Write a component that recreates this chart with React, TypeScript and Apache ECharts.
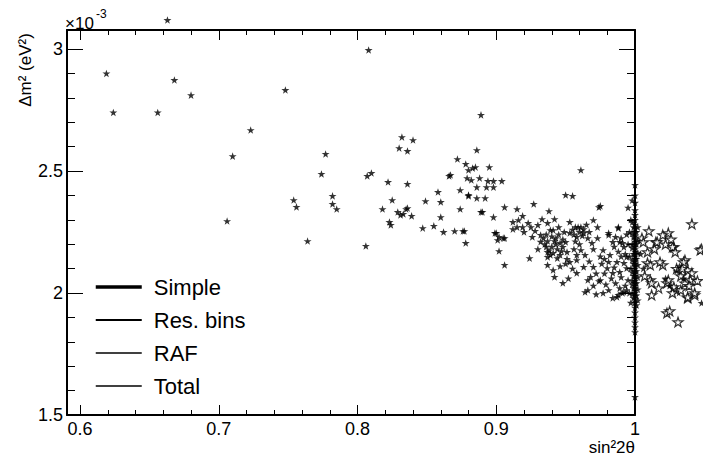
import React, { useEffect, useRef } from "react";
import * as echarts from "echarts";

const xMajorTicks = [0.6, 0.7, 0.8, 0.9, 1.0];
const xMinorTicks = [0.62, 0.64, 0.66, 0.68, 0.72, 0.74, 0.76, 0.78, 0.82, 0.84, 0.86, 0.88, 0.92, 0.94, 0.96, 0.98];
const yMajorTicks = [1.5, 2, 2.5, 3];
const yMinorTicks = [1.6, 1.7, 1.8, 1.9, 2.1, 2.2, 2.3, 2.4, 2.6, 2.7, 2.8, 2.9];
const legendNames = ["Simple", "Res. bins", "RAF", "Total"];
const legendWidths = [3.5, 2.2, 1.5, 1.3];

const filledStars: [number, number][] = [
  [0.663, 3.119], [0.619, 2.9], [0.624, 2.74], [0.656, 2.74], [0.668, 2.873], [0.68, 2.811],
  [0.71, 2.561], [0.706, 2.295], [0.723, 2.668], [0.748, 2.832], [0.808, 2.996], [0.889, 2.73],
  [0.754, 2.381], [0.756, 2.353], [0.777, 2.57], [0.774, 2.488], [0.782, 2.398], [0.782, 2.365], [0.785, 2.344],
  [0.764, 2.213], [0.806, 2.193], [0.807, 2.48], [0.81, 2.492], [0.822, 2.455], [0.836, 2.447],
  [0.832, 2.639], [0.84, 2.627], [0.83, 2.594], [0.836, 2.582],
  [0.825, 2.381], [0.818, 2.344], [0.829, 2.332], [0.831, 2.32], [0.835, 2.344], [0.823, 2.291], [0.824, 2.279],
  [0.866, 2.48], [0.858, 2.414], [0.849, 2.377], [0.86, 2.373], [0.839, 2.316], [0.86, 2.311], [0.847, 2.266], [0.855, 2.275], [0.862, 2.25],
  [0.886, 2.586], [0.872, 2.549], [0.878, 2.529], [0.895, 2.516], [0.88, 2.504], [0.883, 2.512], [0.885, 2.516], [0.867, 2.484],
  [0.879, 2.471], [0.888, 2.471], [0.894, 2.459], [0.898, 2.459], [0.904, 2.459], [0.882, 2.463], [0.886, 2.434], [0.893, 2.434],
  [0.898, 2.434], [0.874, 2.422], [0.88, 2.398], [0.886, 2.389], [0.892, 2.389], [0.874, 2.344], [0.889, 2.332], [0.906, 2.352],
  [0.915, 2.344], [0.927, 2.365], [0.938, 2.336], [0.974, 2.352], [0.95, 2.402], [0.955, 2.398], [0.961, 2.504], [0.836, 2.348], [0.833, 2.324],
  [0.898, 2.311], [0.87, 2.254], [0.877, 2.254], [0.878, 2.205], [0.9, 2.246], [0.902, 2.23], [0.906, 2.225], [0.901, 2.217], [0.902, 2.172], [0.906, 2.115],
  [0.88, 2.402], [0.89, 2.332], [0.912, 2.291], [0.916, 2.299], [0.919, 2.316], [0.923, 2.287], [0.93, 2.279], [0.933, 2.303], [0.937, 2.287],
  [0.942, 2.303], [0.945, 2.27], [0.953, 2.291], [0.957, 2.27], [0.959, 2.27], [0.912, 2.262], [0.919, 2.27], [0.925, 2.27], [0.932, 2.238],
  [0.939, 2.258], [0.941, 2.258], [0.926, 2.23], [0.937, 2.213], [0.942, 2.213], [0.946, 2.205], [0.95, 2.209], [0.953, 2.246], [0.958, 2.23],
  [0.876, 2.254], [0.899, 2.246], [0.905, 2.225], [0.924, 2.143], [0.937, 2.168], [0.939, 2.156], [0.941, 2.164], [0.946, 2.156], [0.948, 2.189],
  [0.951, 2.168], [0.944, 2.143], [0.937, 2.115], [0.941, 2.094], [0.942, 2.066], [0.948, 2.041], [0.953, 2.127], [0.958, 2.135], [0.958, 2.082],
  [0.958, 2.156], [0.937, 2.148],
  [0.975, 2.357], [0.97, 2.299], [0.973, 2.27], [0.961, 2.27], [0.963, 2.246], [0.966, 2.225], [0.969, 2.205], [0.961, 2.176], [0.964, 2.156],
  [0.973, 2.225], [0.981, 2.246], [0.988, 2.27], [0.984, 2.209], [0.989, 2.209], [0.992, 2.189], [0.977, 2.176], [0.982, 2.156], [0.987, 2.127],
  [0.992, 2.123], [0.97, 2.107], [0.98, 2.102], [0.984, 2.082], [0.989, 2.086], [0.994, 2.102], [0.963, 2.107], [0.966, 2.053], [0.975, 2.053],
  [0.981, 2.012], [0.987, 1.984], [0.992, 2.004], [0.966, 2.012], [0.995, 2.053], [0.994, 2.148],
  [0.964, 2.004], [0.984, 1.98], [0.988, 1.992], [0.994, 2.012], [0.974, 2.049], [0.968, 2.066], [0.988, 2.266], [0.981, 2.238], [0.991, 2.0],
  [0.935, 2.2], [0.94, 2.19], [0.944, 2.18], [0.938, 2.175], [0.943, 2.225], [0.948, 2.22], [0.934, 2.225],
  [0.997, 2.3], [0.996, 2.25], [0.998, 2.2], [0.996, 2.15], [0.997, 2.1], [0.998, 2.05], [0.996, 2.0], [0.997, 1.96], [0.995, 2.35], [0.998, 2.38],
  [0.936, 2.24], [0.94, 2.232], [0.945, 2.24], [0.949, 2.25], [0.936, 2.19], [0.943, 2.2], [0.947, 2.172], [0.932, 2.21], [0.93, 2.18],
  [0.955, 2.26], [0.96, 2.25], [0.963, 2.262], [0.956, 2.24], [0.962, 2.235], [0.965, 2.28], [0.967, 2.25], [0.957, 2.212], [0.96, 2.2],
  [0.985, 2.19], [0.988, 2.17], [0.991, 2.205], [0.993, 2.16], [0.995, 2.2], [0.99, 2.225], [0.986, 2.23], [0.994, 2.24], [0.99, 2.15],
  [0.978, 2.14], [0.976, 2.12], [0.981, 2.128], [0.983, 2.06], [0.978, 2.08], [0.986, 2.04], [0.979, 2.035], [0.985, 2.105], [0.99, 2.065],
  [0.97, 2.03], [0.972, 2.08], [0.967, 2.13], [0.975, 2.15], [0.97, 2.18], [0.993, 2.03], [0.989, 2.02], [0.977, 2.0], [0.972, 1.995],
  [0.92, 2.25], [0.915, 2.27], [0.928, 2.255], [0.95, 2.12], [0.955, 2.1], [0.946, 2.11], [0.952, 2.06], [0.956, 2.18], [0.951, 2.14],
  [1.048, 1.959], [1.03, 2.09], [1.035, 2.06], [1.025, 2.03], [1.032, 2.11], [1.022, 2.06], [1.004, 2.16], [1.006, 2.1],
];

const boundaryStars: [number, number][] = [
  [1.0, 2.443], [1.0, 2.4], [1.0, 2.37], [1.0, 2.34], [1.0, 2.32], [1.0, 2.3], [1.0, 2.28], [1.0, 2.265], [1.0, 2.25],
  [1.0, 2.235], [1.0, 2.22], [1.0, 2.21], [1.0, 2.2], [1.0, 2.19], [1.0, 2.18], [1.0, 2.17], [1.0, 2.16], [1.0, 2.15],
  [1.0, 2.14], [1.0, 2.13], [1.0, 2.12], [1.0, 2.11], [1.0, 2.1], [1.0, 2.09], [1.0, 2.08], [1.0, 2.07], [1.0, 2.06],
  [1.0, 2.05], [1.0, 2.04], [1.0, 2.03], [1.0, 2.02], [1.0, 2.01], [1.0, 2.0], [1.0, 1.99], [1.0, 1.975], [1.0, 1.96],
  [1.0, 1.94], [1.0, 1.92], [1.0, 1.9], [1.0, 1.88], [1.0, 1.86], [1.0, 1.84], [1.0, 1.574],
  [0.999, 2.27], [0.999, 2.23], [0.999, 2.16], [0.999, 2.12], [0.999, 2.07], [0.999, 2.02], [0.999, 1.98],
  [1.001, 2.25], [1.001, 2.2], [1.001, 2.14], [1.001, 2.09], [1.001, 2.04], [1.001, 1.99], [1.001, 1.95],
  [0.998, 2.29], [0.998, 2.245], [0.998, 2.185], [0.998, 2.135], [0.998, 2.085], [0.998, 2.035], [0.998, 1.995],
  [1.002, 2.27], [1.002, 2.215], [1.002, 2.165], [1.002, 2.115], [1.002, 2.065], [1.002, 2.015], [1.002, 1.97],
];

const hollowStars: [number, number][] = [
  [1.041, 2.283], [1.048, 2.18], [1.01, 2.254], [1.005, 2.225], [1.015, 2.209], [1.024, 2.246], [1.028, 2.189], [1.036, 2.135],
  [1.038, 2.094], [1.041, 2.082], [1.02, 2.115], [1.011, 2.053], [1.009, 2.123], [1.023, 2.041], [1.03, 2.012], [1.038, 1.98],
  [1.043, 1.992], [1.012, 1.992], [1.023, 1.918], [1.025, 1.926], [1.031, 1.881], [1.006, 2.209], [1.016, 2.209], [1.02, 2.238],
  [1.027, 2.189], [1.029, 2.168], [1.047, 2.176], [1.035, 2.127], [1.04, 2.053], [1.043, 2.0], [1.009, 2.168], [1.011, 2.115],
  [1.012, 2.041], [1.018, 2.127], [1.024, 2.053], [1.028, 2.025], [1.033, 2.012], [1.038, 1.984], [1.033, 2.07], [1.036, 2.04], [1.03, 2.1],
  [1.026, 2.22], [1.022, 2.2], [1.014, 2.18], [1.007, 2.07], [1.017, 2.02], [1.034, 2.1], [1.039, 2.03], [1.045, 2.05], [1.027, 2.0],
];

const STAR =
  "path://M50,0 L61.8,35.3 L98.9,35.3 L68.9,57.4 L79.4,92.7 L50,70.9 L20.6,92.7 L31.1,57.4 L1.1,35.3 L38.2,35.3 Z";

const X_MIN = 0.5906;
const X_MAX = 1.0;
const Y_MIN = 1.5;
const Y_MAX = 3.078;
const FONT = "Liberation Sans";

function xAx(position: string, values: number[], len: number, withLine: boolean, withLabel: boolean) {
  return {
    type: "value",
    position,
    min: X_MIN,
    max: X_MAX,
    splitLine: { show: false },
    axisLine: { show: withLine, onZero: false, lineStyle: { color: "#000", width: 2 } },
    axisTick: { show: true, inside: true, length: len, customValues: values, lineStyle: { color: "#000", width: 1 } },
    axisLabel: {
      show: withLabel,
      customValues: values,
      margin: 5,
      color: "#000",
      fontFamily: FONT,
      fontSize: 18,
      formatter: (v: number) => String(Math.round(v * 10) / 10),
    },
  };
}

function yAx(position: string, values: number[], len: number, withLine: boolean, withLabel: boolean) {
  return {
    type: "value",
    position,
    min: Y_MIN,
    max: Y_MAX,
    splitLine: { show: false },
    axisLine: { show: withLine, onZero: false, lineStyle: { color: "#000", width: 2 } },
    axisTick: { show: true, inside: true, length: len, customValues: values, lineStyle: { color: "#000", width: 1 } },
    axisLabel: {
      show: withLabel,
      customValues: values,
      margin: 4,
      color: "#000",
      fontFamily: FONT,
      fontSize: 18,
      formatter: (v: number) => String(Math.round(v * 10) / 10),
    },
  };
}

export default function App() {
  const ref = useRef<HTMLDivElement>(null);
  useEffect(() => {
    if (!ref.current) return;
    const chart = echarts.init(ref.current, null, { renderer: "svg" });
    const legendSeries = legendNames.map((n, i) => ({
      name: n,
      type: "line",
      data: [],
      symbol: "none",
      xAxisIndex: 0,
      yAxisIndex: 0,
      lineStyle: { color: "#000", width: legendWidths[i] },
      itemStyle: { color: "#000", opacity: 0 },
    }));
    chart.setOption({
      animation: false,
      backgroundColor: "#fff",
      grid: { left: 67, right: 68, top: 30, bottom: 40, containLabel: false },
      xAxis: [
        xAx("bottom", xMajorTicks, 10, true, true),
        xAx("bottom", xMinorTicks, 5, false, false),
        xAx("top", xMajorTicks, 10, true, false),
        xAx("top", xMinorTicks, 5, false, false),
      ],
      yAxis: [
        yAx("left", yMajorTicks, 16, true, true),
        yAx("left", yMinorTicks, 8, false, false),
        yAx("right", yMajorTicks, 16, true, false),
        yAx("right", yMinorTicks, 8, false, false),
      ],
      legend: {
        data: legendNames.map((n, i) => ({
          name: n,
          itemStyle: { opacity: 0 },
          lineStyle: { color: "#000", width: legendWidths[i] },
        })),
        orient: "vertical",
        left: 94,
        top: 275,
        padding: 0,
        itemWidth: 46,
        itemHeight: 14,
        itemGap: 9,
        selectedMode: false,
        itemStyle: { opacity: 0 },
        textStyle: { fontFamily: FONT, fontSize: 22, lineHeight: 24, color: "#000", padding: [0, 0, 0, 7] },
      },
      graphic: [
        {
          type: "text",
          x: 65,
          y: 23,
          style: { text: "×10", font: `17px "${FONT}"`, fill: "#000", align: "left", verticalAlign: "middle" },
        },
        {
          type: "text",
          x: 96,
          y: 14,
          style: { text: "-3", font: `12px "${FONT}"`, fill: "#000", align: "left", verticalAlign: "middle" },
        },
        {
          type: "text",
          x: 25,
          y: 70,
          rotation: Math.PI / 2,
          style: { text: "Δm² (eV²)", font: `17px "${FONT}"`, fill: "#000", align: "center", verticalAlign: "middle" },
        },
        {
          type: "text",
          x: 635,
          y: 447,
          style: { text: "sin²2θ", font: `17px "${FONT}"`, fill: "#000", align: "right", verticalAlign: "middle" },
        },
      ],
      series: [
        ...legendSeries,
        {
          name: "fits",
          type: "scatter",
          clip: false,
          data: filledStars,
          symbol: STAR,
          symbolKeepAspect: true,
          symbolSize: 8,
          itemStyle: { color: "#000" },
          z: 5,
        },
        {
          name: "boundary",
          type: "scatter",
          clip: false,
          data: boundaryStars,
          symbol: STAR,
          symbolKeepAspect: true,
          symbolSize: 8,
          itemStyle: { color: "#000" },
          z: 5,
        },
        {
          name: "outside",
          type: "scatter",
          clip: false,
          data: hollowStars,
          symbol: STAR,
          symbolKeepAspect: true,
          symbolSize: 10,
          itemStyle: { color: "#fff", borderColor: "#000", borderWidth: 1.2 },
          z: 4,
        },
      ],
    });
    return () => chart.dispose();
  }, []);
  return <div ref={ref} style={{ position: "fixed", left: 0, top: 0, width: 703, height: 455 }} />;
}
